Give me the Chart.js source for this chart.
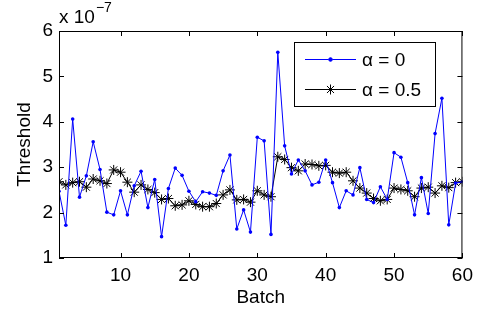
<!DOCTYPE html>
<html>
<head>
<meta charset="utf-8">
<script src="https://cdn.jsdelivr.net/npm/chart.js@4"></script>
<style>
    html, body { margin: 0; padding: 0; background: #fff; }
</style>
</head>
<body>
<canvas id="threshold_graph" width="479" height="313"></canvas>
<script>
// batch numbers (x axis)
const batches = [
    1, 2, 3, 4, 5, 6, 7, 8, 9, 10,
    11, 12, 13, 14, 15, 16, 17, 18, 19, 20,
    21, 22, 23, 24, 25, 26, 27, 28, 29, 30,
    31, 32, 33, 34, 35, 36, 37, 38, 39, 40,
    41, 42, 43, 44, 45, 46, 47, 48, 49, 50,
    51, 52, 53, 54, 55, 56, 57, 58, 59, 60
];
// threshold values, in units of 1e-7
const alpha0 = [
    2.47, 1.72, 4.06, 2.34, 2.81, 3.56, 2.95, 2.01, 1.95, 2.48,
    1.95, 2.59, 2.91, 2.11, 2.73, 1.47, 2.53, 2.98, 2.82, 2.47,
    2.24, 2.46, 2.43, 2.38, 2.92, 3.27, 1.64, 2.06, 1.57, 3.66,
    3.58, 1.52, 5.53, 3.47, 2.85, 3.16, 2.92, 2.61, 2.67, 3.16,
    2.66, 2.11, 2.48, 2.39, 2.99, 2.29, 2.22, 2.57, 2.29, 3.32,
    3.22, 2.66, 1.95, 2.77, 1.98, 3.74, 4.52, 1.73, 2.65, 2.68
];
const alpha05 = [
    2.68, 2.61, 2.66, 2.68, 2.56, 2.74, 2.70, 2.64, 2.94, 2.89,
    2.67, 2.45, 2.61, 2.51, 2.44, 2.29, 2.31, 2.15, 2.17, 2.26,
    2.18, 2.13, 2.13, 2.20, 2.39, 2.50, 2.28, 2.29, 2.23, 2.48,
    2.39, 2.35, 3.23, 3.17, 2.99, 2.92, 3.07, 3.06, 3.03, 3.04,
    2.89, 2.87, 2.89, 2.70, 2.54, 2.43, 2.31, 2.26, 2.29, 2.54,
    2.51, 2.48, 2.35, 2.54, 2.56, 2.43, 2.59, 2.55, 2.66, 2.68
];
const xTicks = [10, 20, 30, 40, 50, 60];
const yTicks = [1, 2, 3, 4, 5, 6];
const seriesLabels = ['α = 0', 'α = 0.5'];
const exponentLabel = ['x 10', '−7'];

const fontFamily = '"Liberation Sans", Arial, Helvetica, sans-serif';

function toPoints(values) {
    return values.map(function (v, i) {
        return { x: batches[i], y: v };
    });
}

// box, inward ticks, exponent and legend like a matlab figure
const matlabFrame = {
    id: 'matlabFrame',
    afterDatasetsDraw(chart) {
        const ctx = chart.ctx;
        const a = chart.chartArea;
        const xs = chart.scales.x;
        const ys = chart.scales.y;
        ctx.save();
        ctx.strokeStyle = '#000';
        ctx.lineWidth = 1;
        ctx.strokeRect(a.left + 0.5, a.top + 0.5, a.right - a.left - 1, a.bottom - a.top - 1);
        ctx.beginPath();
        xTicks.forEach(function (v) {
            const px = Math.round(xs.getPixelForValue(v)) + 0.5;
            ctx.moveTo(px, a.bottom);
            ctx.lineTo(px, a.bottom - 5);
            ctx.moveTo(px, a.top);
            ctx.lineTo(px, a.top + 5);
        });
        yTicks.forEach(function (v) {
            const py = Math.round(ys.getPixelForValue(v)) + 0.5;
            ctx.moveTo(a.left, py);
            ctx.lineTo(a.left + 5, py);
            ctx.moveTo(a.right, py);
            ctx.lineTo(a.right - 5, py);
        });
        ctx.stroke();

        // exponent label
        ctx.fillStyle = '#000';
        ctx.textBaseline = 'alphabetic';
        ctx.textAlign = 'left';
        ctx.font = '19px ' + fontFamily;
        ctx.fillText(exponentLabel[0], a.left, 23);
        const w = ctx.measureText(exponentLabel[0]).width;
        ctx.font = '14px ' + fontFamily;
        ctx.fillText(exponentLabel[1], a.left + w + 1, 12);

        // legend
        const lx = 294, ly = 42, lw = 141, lh = 64;
        ctx.fillStyle = '#fff';
        ctx.fillRect(lx, ly, lw, lh);
        ctx.strokeRect(lx + 0.5, ly + 0.5, lw, lh);
        const rows = [59.5, 89.5];
        chart.data.datasets.forEach(function (ds, i) {
            const y = rows[i];
            ctx.strokeStyle = ds.borderColor;
            ctx.lineWidth = 1;
            ctx.beginPath();
            ctx.moveTo(305, y);
            ctx.lineTo(356, y);
            ctx.stroke();
            Chart.helpers.drawPoint(ctx, {
                pointStyle: ds.pointStyle,
                radius: ds.pointRadius,
                borderWidth: 1
            }, 330.5, y);
            if (ds.pointStyle === 'circle') {
                ctx.fillStyle = ds.pointBackgroundColor;
                ctx.fill();
            }
            ctx.fillStyle = '#000';
            ctx.font = '19px ' + fontFamily;
            ctx.textBaseline = 'middle';
            ctx.fillText(seriesLabels[i], 362, y + 1);
        });
        ctx.restore();
    }
};

const thresholdGraph = document.getElementById('threshold_graph');
new Chart(thresholdGraph, {
    type: 'line',
    data: {
        datasets: [
            {
                label: seriesLabels[0],
                data: toPoints(alpha0),
                borderColor: '#0000ff',
                borderWidth: 1,
                pointStyle: 'circle',
                pointRadius: 1.8,
                pointBackgroundColor: '#0000ff',
                pointBorderColor: '#0000ff',
                pointBorderWidth: 0,
                tension: 0
            },
            {
                label: seriesLabels[1],
                data: toPoints(alpha05),
                borderColor: '#000000',
                borderWidth: 1,
                pointStyle: 'star',
                pointRadius: 5,
                pointBorderColor: '#000000',
                pointBorderWidth: 1,
                tension: 0
            }
        ]
    },
    options: {
        responsive: false,
        animation: false,
        devicePixelRatio: 1,
        layout: {
            padding: { left: 9, right: 16, top: 31, bottom: 0 }
        },
        plugins: {
            legend: { display: false },
            tooltip: { enabled: false }
        },
        scales: {
            x: {
                type: 'linear',
                min: 1,
                max: 60,
                afterBuildTicks: function (scale) {
                    scale.ticks = xTicks.map(function (v) { return { value: v }; });
                },
                afterFit: function (scale) {
                    scale.height = 55;
                },
                grid: { display: false, drawTicks: false },
                border: { display: false },
                ticks: {
                    color: '#000',
                    padding: 6,
                    maxRotation: 0,
                    font: { family: fontFamily, size: 19 }
                },
                title: {
                    display: true,
                    text: 'Batch',
                    color: '#000',
                    padding: { top: 0, bottom: 4 },
                    font: { family: fontFamily, size: 19 }
                }
            },
            y: {
                min: 1,
                max: 6,
                afterBuildTicks: function (scale) {
                    scale.ticks = yTicks.map(function (v) { return { value: v }; });
                },
                afterFit: function (scale) {
                    scale.width = 50;
                },
                grid: { display: false, drawTicks: false },
                border: { display: false },
                ticks: {
                    color: '#000',
                    padding: 6,
                    font: { family: fontFamily, size: 19 }
                },
                title: {
                    display: true,
                    text: 'Threshold',
                    color: '#000',
                    padding: { top: 4, bottom: 0 },
                    font: { family: fontFamily, size: 19 }
                }
            }
        }
    },
    plugins: [matlabFrame]
});
</script>
</body>
</html>
